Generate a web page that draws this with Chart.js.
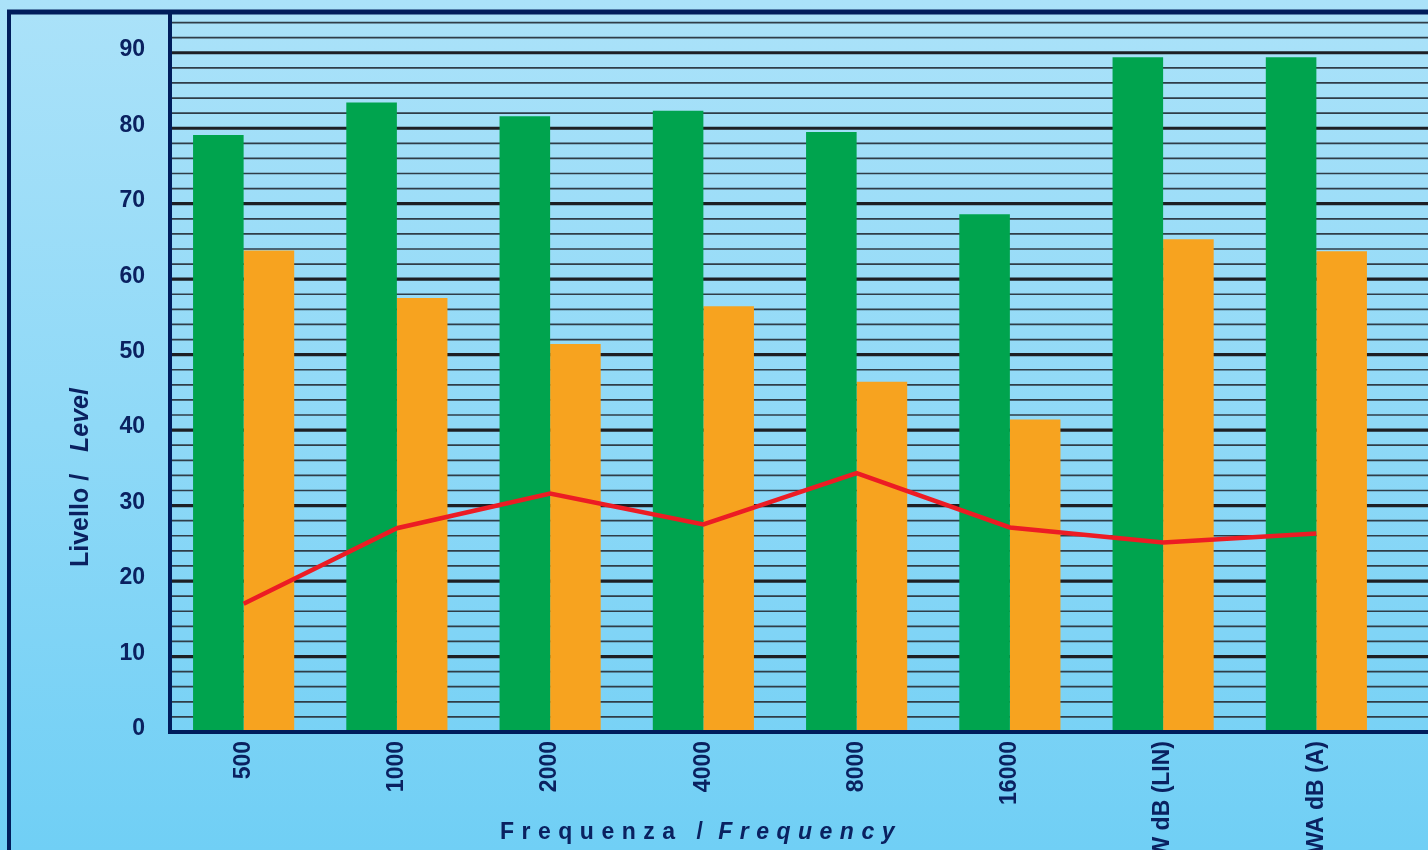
<!DOCTYPE html>
<html>
<head>
<meta charset="utf-8">
<script src="https://cdn.jsdelivr.net/npm/chart.js@4/dist/chart.umd.min.js"></script>
<style>
  html, body {
    margin: 0; padding: 0; width: 1428px; height: 850px; overflow: hidden;
    background: linear-gradient(to bottom, #abe2f9 0%, #8fd9f7 50%, #70cff5 100%);
  }
  #wrap { position: absolute; left: 0; top: 0; width: 1428px; height: 850px; }
</style>
</head>
<body>
<div id="wrap"><canvas id="chart" width="1428" height="850"></canvas></div>
<script>
// Frequency bands and overall weighted levels
const categories = ['500', '1000', '2000', '4000', '8000', '16000', 'W dB (LIN)', 'WA dB (A)'];
// Levels per band (dB)
const greenLevels  = [79.1, 83.4, 81.6, 82.3, 79.5, 68.6, 89.4, 89.4];
const orangeLevels = [63.8, 57.5, 51.4, 56.4, 46.4, 41.4, 65.3, 63.7];
const redLevels    = [17.0, 27.0, 31.6, 27.5, 34.3, 27.1, 25.1, 26.3];
// Value axis
const yTickLabels = [0, 10, 20, 30, 40, 50, 60, 70, 80, 90];
const yMax = 95.4;
const gridStep = 2;
const majorStep = 10;

const NAVY = '#0a2160';
const FRAME = '#001d5c';
const FONT = '"Liberation Sans", Arial, sans-serif';

const framePlugin = {
  id: 'frame',
  beforeDatasetsDraw(chart) {
    const { ctx, scales: { y }, chartArea } = chart;
    ctx.save();
    for (let v = gridStep; v < yMax; v += gridStep) {
      const py = y.getPixelForValue(v);
      const major = v % majorStep === 0;
      ctx.beginPath();
      ctx.lineWidth = major ? 3.2 : 1.7;
      ctx.strokeStyle = major ? '#1d1f24' : '#2f3d48';
      ctx.moveTo(chartArea.left + 5, py);
      ctx.lineTo(chart.width, py);
      ctx.stroke();
    }
    ctx.restore();
  },
  afterDatasetsDraw(chart) {
    const { ctx, chartArea } = chart;
    const axisX = chartArea.left + 3;
    ctx.save();
    ctx.strokeStyle = FRAME;
    ctx.lineCap = 'butt';
    // top edge
    ctx.lineWidth = 5;
    ctx.beginPath(); ctx.moveTo(7, chartArea.top); ctx.lineTo(chart.width, chartArea.top); ctx.stroke();
    // outer left edge
    ctx.lineWidth = 4;
    ctx.beginPath(); ctx.moveTo(9, chartArea.top - 2); ctx.lineTo(9, chart.height); ctx.stroke();
    // value axis line
    ctx.beginPath(); ctx.moveTo(axisX, chartArea.top - 2); ctx.lineTo(axisX, chartArea.bottom + 2); ctx.stroke();
    // category axis line
    ctx.beginPath(); ctx.moveTo(axisX - 2, chartArea.bottom); ctx.lineTo(chart.width, chartArea.bottom); ctx.stroke();
    ctx.restore();
  },
  afterDraw(chart) {
    const { ctx } = chart;
    ctx.save();
    ctx.fillStyle = NAVY;
    ctx.textBaseline = 'alphabetic';
    ctx.textAlign = 'left';

    // Y axis title, rotated
    ctx.save();
    ctx.translate(88, 567);
    ctx.rotate(-Math.PI / 2);
    ctx.font = 'bold 25px ' + FONT;
    ctx.fillText('Livello /', 0, 0);
    ctx.font = 'italic bold 25px ' + FONT;
    ctx.fillText('Level', 115, 0);
    ctx.restore();

    // X axis title, spaced letters
    ctx.letterSpacing = '7.5px';
    ctx.font = 'bold 23px ' + FONT;
    const part1 = 'Frequenza / ';
    let x = 500;
    ctx.fillText(part1, x, 839);
    x += ctx.measureText(part1).width;
    ctx.font = 'italic bold 23px ' + FONT;
    ctx.fillText('Frequency', x - 6, 839);
    ctx.restore();
  }
};

new Chart(document.getElementById('chart'), {
  data: {
    labels: categories,
    datasets: [
      {
        type: 'line',
        data: redLevels,
        borderColor: '#ec1c24',
        borderWidth: 4.5,
        pointRadius: 0,
        tension: 0,
        order: 0
      },
      {
        type: 'bar',
        data: greenLevels,
        backgroundColor: '#00a44e',
        borderWidth: 0,
        categoryPercentage: 0.66,
        barPercentage: 1.0,
        order: 1
      },
      {
        type: 'bar',
        data: orangeLevels,
        backgroundColor: '#f7a31f',
        borderWidth: 0,
        categoryPercentage: 0.66,
        barPercentage: 1.0,
        order: 1
      }
    ]
  },
  options: {
    responsive: false,
    animation: false,
    devicePixelRatio: 1,
    layout: { padding: { top: 12, right: 35, left: 0, bottom: 0 } },
    plugins: { legend: { display: false }, tooltip: { enabled: false } },
    scales: {
      x: {
        grid: { display: false, drawTicks: false },
        border: { display: false },
        ticks: {
          color: NAVY,
          font: { family: FONT, weight: 'bold', size: 23 },
          maxRotation: 90,
          minRotation: 90,
          autoSkip: false,
          padding: 9
        },
        afterFit(scale) {
          scale.height = 118;
          scale.paddingLeft = 0;
          scale.paddingRight = 0;
        }
      },
      y: {
        min: 0,
        max: yMax,
        grid: { display: false, drawTicks: false },
        border: { display: false },
        afterBuildTicks(scale) {
          scale.ticks = yTickLabels.map(v => ({ value: v }));
        },
        ticks: {
          color: NAVY,
          font: { family: FONT, weight: 'bold', size: 23 },
          padding: 22,
          labelOffset: -3
        },
        afterFit(scale) {
          scale.width = 167;
          scale.paddingTop = 0;
          scale.paddingBottom = 0;
        }
      }
    }
  },
  plugins: [framePlugin]
});
</script>
</body>
</html>
